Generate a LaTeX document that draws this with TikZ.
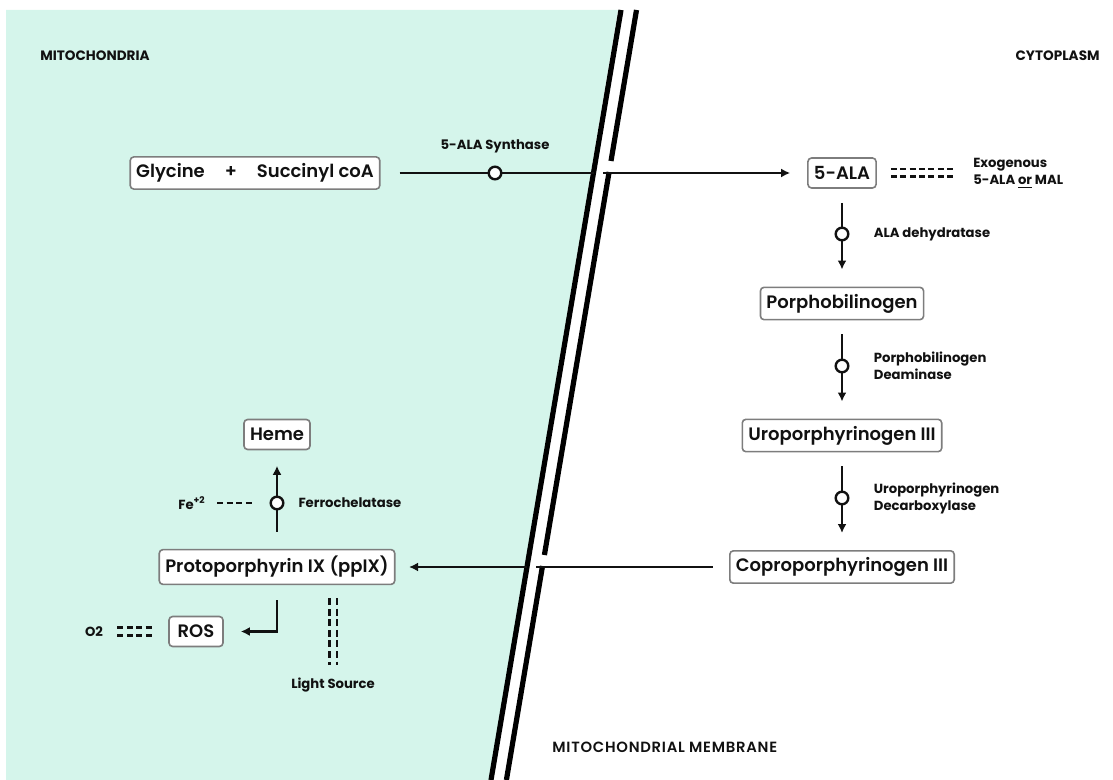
\documentclass[tikz,border=0pt]{standalone}
\usepackage{fontspec}
\setmainfont{Poppins}[BoldFont={Poppins SemiBold}]
\newfontfamily\heavy{Poppins Bold}
\usetikzlibrary{arrows.meta,positioning}
\definecolor{Mint}{HTML}{D5F5EB}
\definecolor{Frame}{HTML}{7D7D7D}
\definecolor{Ink}{HTML}{111111}

\begin{document}
\begin{tikzpicture}[
    x=0.5pt,y=-0.5pt,
    node distance=6pt,
    mol/.style={draw=Frame,line width=0.8pt,rounded corners=1.8pt,fill=white,
      minimum height=15pt,inner xsep=3pt,font=\bfseries\fontsize{9}{10}\selectfont,text=Ink},
    enz/.style={circle,draw=Ink,line width=1.2pt,fill=white,inner sep=0pt,minimum size=6.3pt},
    lbl/.style={font=\heavy\fontsize{6.6}{8.5}\selectfont,text=Ink,align=left,inner sep=1pt},
    head/.style={font=\heavy\fontsize{6.8}{8}\selectfont,text=Ink,inner sep=0pt},
    flow/.style={line width=1.4pt,draw=Ink},
    arrow/.style={flow,-{Latex[length=4.5pt,width=4.5pt]}},
    wall/.style={line width=2.6pt,draw=black},
    pair/.style={draw=Ink,double=white,line width=1.4pt,double distance=2.5pt,
      dash pattern=on 3pt off 1.7pt},
    dsh/.style={draw=Ink,line width=1.4pt,dash pattern=on 3pt off 1.8pt}
  ]
  \useasboundingbox (0,0) rectangle (1113,780);

  % mitochondrion side
  \fill[Mint] (6,10) -- (618,10) -- (489,780) -- (6,780) -- cycle;

  % membrane
  \draw[wall] (621,10) -- (491,780);
  \draw[wall] (636.5,10) -- (611,161);
  \draw[wall] (609.1,172) -- (544.4,555);
  \draw[wall] (542.5,566) -- (506.4,780);

  \node[head,anchor=west] (mito) at (40,56) {MITOCHONDRIA};
  \node[head,anchor=east] (cyto) at (1100,56) {CYTOPLASM};
  \node[head,anchor=west,font=\bfseries\fontsize{7.4}{8}\selectfont] (memb) at (552,747)
    {\addfontfeature{LetterSpace=5}MITOCHONDRIAL MEMBRANE};

  % metabolites
  \node[mol,minimum width=123pt] (glyc) at (255,173)
    {Glycine\hspace{10pt}+\hspace{10pt}Succinyl coA};
  \node[mol,minimum width=32pt] (ala) at (842,173) {5-ALA};
  \node[mol,minimum width=75pt] (pbg) at (842,303.5) {Porphobilinogen};
  \node[mol,minimum width=91pt] (uro) at (842,435.5) {Uroporphyrinogen III};
  \node[mol,minimum width=103.5pt] (copro) at (842,567) {Coproporphyrinogen III};
  \node[mol,minimum width=107.5pt] (ppix) at (277,567) {Protoporphyrin IX (ppIX)};
  \node[mol,minimum width=32pt] (heme) at (277,434.5) {Heme};
  \node[mol,minimum width=27pt] (ros) at (196,631.5) {ROS};

  \node[lbl,right=47pt of ala] (exo) {Exogenous\\5-ALA \underline{or} MAL};
  \node[lbl] (o2) at (94,631.5) {O2};
  \node[lbl] (light) at (333,685) {Light Source};
  \node[lbl] (fe) at (192,503) {Fe\textsuperscript{+2}};

  % crossing points on the membrane
  \coordinate (m1) at (593.5,173);
  \coordinate (m2) at (603,173);
  \coordinate (b1) at (527,567);
  \coordinate (b2) at (536,567);
  \coordinate (ls) at (333,598);

  % reactions
  \draw[flow,shorten <=9.5pt] (glyc) -- (m1);
  \draw[arrow,shorten >=8.5pt] (m2) -- (ala);
  \draw[arrow,shorten <=7pt,shorten >=8.5pt] (ala) -- (pbg);
  \draw[arrow,shorten <=7pt,shorten >=8.5pt] (pbg) -- (uro);
  \draw[arrow,shorten <=7pt,shorten >=8.5pt] (uro) -- (copro);
  \draw[flow,shorten <=8.25pt] (copro) -- (b2);
  \draw[arrow,shorten >=6.75pt] (b1) -- (ppix);
  \draw[arrow,shorten <=8.5pt,shorten >=7.75pt] (ppix) -- (heme);
  \draw[arrow,shorten <=7.5pt,shorten >=8.5pt] (ppix) |- (ros);

  % enzymes
  \node[enz] (s1) at (495,173) {};
  \node[enz] (d1) at (842,234) {};
  \node[enz] (d2) at (842,366) {};
  \node[enz] (d3) at (842,498) {};
  \node[enz] (fc) at (277,503) {};
  \node[lbl,above=5pt of s1] {5-ALA Synthase};
  \node[lbl,right=11pt of d1] {ALA dehydratase};
  \node[lbl,right=11pt of d2] {Porphobilinogen\\Deaminase};
  \node[lbl,right=11pt of d3] {Uroporphyrinogen\\Decarboxylase};
  \node[lbl,right=5.8pt of fc] {Ferrochelatase};

  % cofactors
  \draw[pair,shorten <=7pt,shorten >=7.5pt] (ala) -- (exo);
  \draw[pair,double=Mint,shorten <=6pt,shorten >=8pt] (o2) -- (ros);
  \draw[pair,double=Mint,dash pattern=on 3.5pt off 1.8pt,shorten >=5.5pt] (ls) -- (light);
  \draw[dsh,shorten <=4.5pt,shorten >=9pt] (fe) -- (fc);
\end{tikzpicture}
\end{document}
